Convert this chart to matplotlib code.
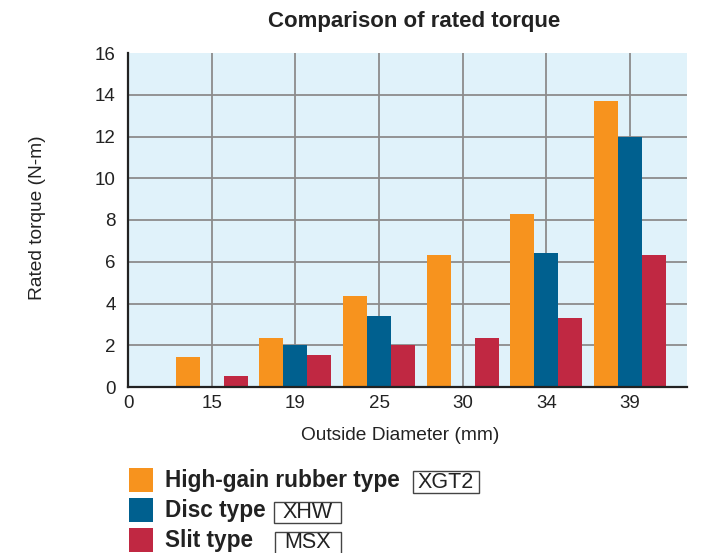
import matplotlib
matplotlib.use("Agg")
import matplotlib.pyplot as plt
from matplotlib.patches import Rectangle
import numpy as np

plt.rcParams['font.family'] = ['Liberation Sans', 'DejaVu Sans']

categories = ['15', '19', '25', '30', '34', '39']
tick_labels = ['0'] + categories
high_gain = [1.45, 2.34, 4.36, 6.34, 8.27, 13.71]
disc = [0.0, 2.0, 3.39, 0.0, 6.43, 12.0]
slit = [0.51, 1.55, 2.0, 2.34, 3.3, 6.34]
series_names = ['High-gain rubber type', 'Disc type', 'Slit type']
series_codes = ['XGT2', 'XHW', 'MSX']
colors = ['#F7931E', '#00608F', '#C02842']

W, H = 701, 553
fig = plt.figure(figsize=(W / 100, H / 100), dpi=100)
ax = fig.add_axes([128 / W, 1 - 387 / H, (687 - 128) / W, (387 - 53) / H])
ax.set_facecolor('#E0F2FA')

x = np.arange(1, len(categories) + 1)
bw = 0.287
for k, (vals, c) in enumerate(zip([high_gain, disc, slit], colors)):
    ax.bar(x + (k - 1) * bw, vals, width=bw, color=c, zorder=3, linewidth=0)

ax.set_xlim(0, 6.68)
ax.set_ylim(0, 16)
ax.set_xticks(np.arange(0, len(categories) + 1))
ax.set_xticklabels(tick_labels)
ax.set_yticks(np.arange(0, 17, 2))
ax.grid(True, color='#8C8C8C', linewidth=1.3, zorder=1)
ax.get_ygridlines()[-1].set_visible(False)
ax.tick_params(length=0, labelsize=13.5, colors='#222222', pad=6)
ax.tick_params(axis='y', pad=9)
for s in ['top', 'right']:
    ax.spines[s].set_visible(False)
for s in ['left', 'bottom']:
    ax.spines[s].set_color('#222222')
    ax.spines[s].set_linewidth(1.6)
    ax.spines[s].set_zorder(4)

fig.text(414 / W, 1 - 22 / H, 'Comparison of rated torque', ha='center', va='center',
         fontsize=16, fontweight='bold', color='#222222')
fig.text(400 / W, 1 - 436 / H, 'Outside Diameter (mm)', ha='center', va='center',
         fontsize=13.8, color='#222222')
fig.text(38 / W, 1 - 218 / H, 'Rated torque (N-m)', ha='center', va='center',
         rotation=90, fontsize=13.8, color='#222222')

# legend
sq_tops = [468, 498, 528]
box_x = [(413, 479), (274, 341), (275, 341)]
box_y = [(471, 493), (502, 523), (532, 554)]
for i in range(3):
    t = sq_tops[i]
    fig.patches.append(Rectangle((129 / W, 1 - (t + 24) / H), 24 / W, 24 / H,
                                 transform=fig.transFigure, color=colors[i], linewidth=0))
    fig.text(165 / W, 1 - (t + 12) / H, series_names[i], ha='left', va='center',
             fontsize=16.3, fontweight='bold', color='#222222')
    x0, x1 = box_x[i]
    y0, y1 = box_y[i]
    fig.patches.append(Rectangle((x0 / W, 1 - y1 / H), (x1 - x0) / W, (y1 - y0) / H,
                                 transform=fig.transFigure, facecolor='white',
                                 edgecolor='#444444', linewidth=1.0))
    fig.text((x0 + x1) / 2 / W, 1 - (y0 + y1) / 2 / H, series_codes[i], ha='center',
             va='center', fontsize=15.5, color='#222222')

fig.savefig('out.png', dpi=100)
